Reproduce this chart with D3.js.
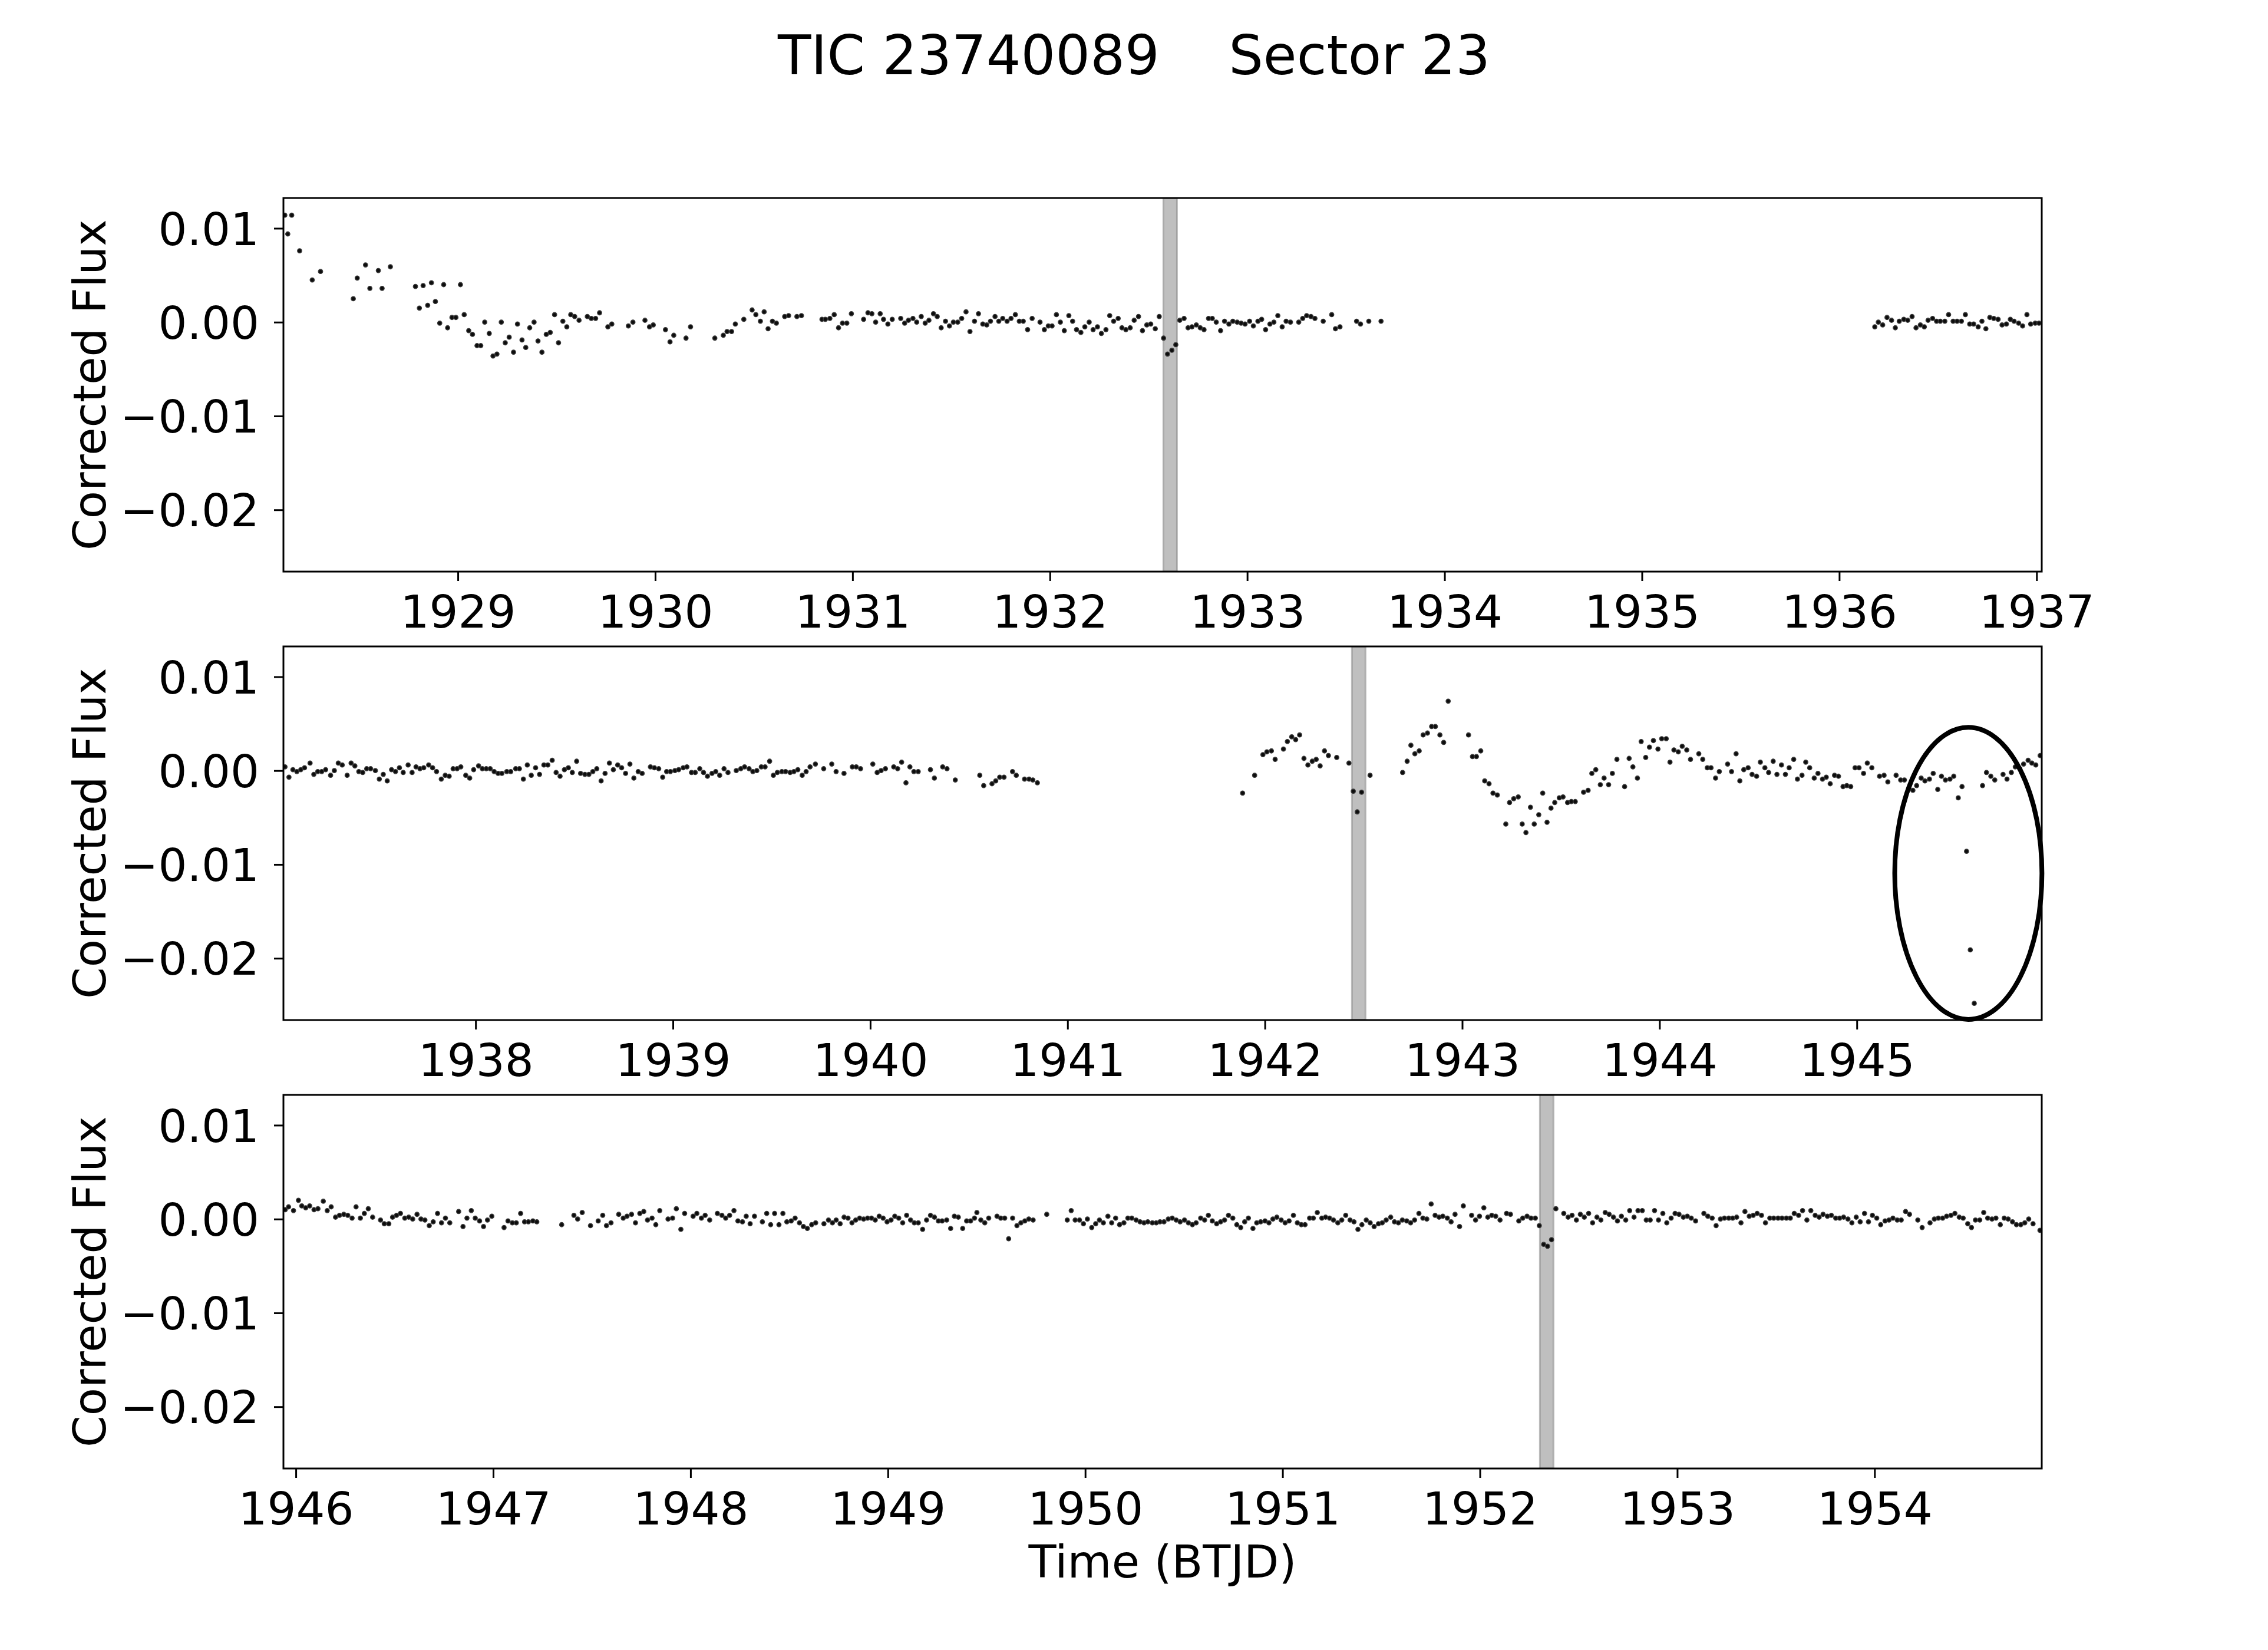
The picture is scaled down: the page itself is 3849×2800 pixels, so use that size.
<!DOCTYPE html>
<html><head><meta charset="utf-8">
<script src="https://cdn.jsdelivr.net/npm/d3@7"></script>
<style>
body{margin:0;background:#fff}
svg{display:block}
text{font-family:"DejaVu Sans",sans-serif;fill:#000}
</style>
</head><body>
<svg id="chart" width="3849" height="2800"></svg>
<script>
// ---------------- data ----------------
const titleText = "TIC 23740089    Sector 23";
const yLabel = "Corrected Flux";
const xLabel = "Time (BTJD)";
const yDomain = [-0.02658, 0.01323];
const yTicks = [0.01, 0.00, -0.01, -0.02];
const panelRanges = [[1928.116, 1937.026], [1937.026, 1945.937], [1945.937, 1954.847]];
const xTicks1 = [1929, 1930, 1931, 1932, 1933, 1934, 1935, 1936, 1937];
const xTicks2 = [1938, 1939, 1940, 1941, 1942, 1943, 1944, 1945];
const xTicks3 = [1946, 1947, 1948, 1949, 1950, 1951, 1952, 1953, 1954];
const transitWindows = [[1932.575, 1932.644], [1942.441, 1942.510], [1952.304, 1952.373]];
const highlight = {t: 1945.565, f: -0.01095, dt: 0.373, df: 0.01556};

const lc1 = [
[1928.123,0.0114],[1928.138,0.0094],[1928.158,0.0114],[1928.198,0.0076],[1928.262,0.0045],[1928.304,0.0054],
[1928.470,0.0025],[1928.490,0.0047],[1928.532,0.0061],[1928.554,0.0036],[1928.597,0.0055],[1928.616,0.0036],[1928.658,0.0059],
[1928.785,0.0038],[1928.805,0.0015],[1928.824,0.0039],[1928.847,0.0018],[1928.866,0.0042],[1928.886,0.0022],[1928.908,-0.0001],[1928.928,0.0040],[1928.948,-0.0006],[1928.970,0.0005],[1928.990,0.0005],[1929.013,0.0040],[1929.032,0.0008],[1929.055,-0.0009],[1929.074,-0.0013],[1929.097,-0.0025],[1929.116,-0.0025],[1929.136,0.0000],[1929.159,-0.0012],[1929.178,-0.0036],[1929.198,-0.0034],[1929.220,0.0000],[1929.240,-0.0022],[1929.260,-0.0016],[1929.282,-0.0032],[1929.302,-0.0002],[1929.325,-0.0019],[1929.344,-0.0027],[1929.364,-0.0006],[1929.386,0.0000],[1929.406,-0.0020],[1929.426,-0.0032],[1929.448,-0.0013],[1929.468,-0.0011],[1929.490,0.0008],[1929.510,-0.0022],[1929.532,0.0001],[1929.552,-0.0005],[1929.572,0.0008],[1929.592,0.0006],[1929.614,0.0002],[1929.656,0.0006],[1929.676,0.0004],[1929.698,0.0004],[1929.718,0.0010],[1929.760,-0.0005],[1929.780,-0.0002],
[1929.864,-0.0004],[1929.887,0.0000],[1929.948,0.0002],[1929.971,-0.0005],[1929.990,-0.0003],
[1930.052,-0.0008],[1930.075,-0.0021],[1930.094,-0.0014],[1930.156,-0.0017],[1930.179,-0.0005],
[1930.302,-0.0017],[1930.345,-0.0014],[1930.364,-0.0010],[1930.387,-0.0010],[1930.406,-0.0002],[1930.449,0.0003],[1930.491,0.0013],[1930.510,0.0008],[1930.533,0.0001],[1930.552,0.0011],[1930.572,-0.0007],[1930.594,0.0001],[1930.614,-0.0001],[1930.656,0.0006],[1930.676,0.0007],[1930.718,0.0006],[1930.741,0.0007],[1930.845,0.0003],
[1930.862,0.0003],[1930.885,0.0004],[1930.907,0.0008],[1930.929,-0.0006],[1930.949,-0.0001],[1930.971,-0.0001],[1930.994,0.0009],
[1931.056,0.0003],[1931.078,0.0010],[1931.098,0.0009],[1931.117,0.0000],[1931.140,0.0009],[1931.157,0.0003],[1931.179,-0.0002],[1931.201,0.0003],[1931.244,0.0004],[1931.264,-0.0001],[1931.283,0.0002],[1931.306,0.0004],[1931.325,0.0000],[1931.348,0.0006],[1931.368,-0.0001],[1931.387,0.0002],[1931.410,0.0009],[1931.429,0.0006],[1931.449,-0.0006],[1931.471,0.0001],[1931.491,-0.0004],[1931.511,0.0000],[1931.533,0.0000],[1931.553,0.0004],[1931.575,0.0011],[1931.595,-0.0010],[1931.618,0.0001],[1931.638,0.0009],[1931.660,-0.0002],[1931.680,-0.0003],[1931.699,0.0001],[1931.722,0.0006],[1931.741,0.0001],[1931.761,0.0004],[1931.783,0.0001],[1931.803,0.0004],[1931.825,0.0008],[1931.845,0.0001],[1931.865,0.0001],[1931.887,-0.0008],[1931.910,0.0004],[1931.950,0.0000],[1931.972,-0.0008],[1931.992,-0.0004],
[1932.011,-0.0004],[1932.033,0.0008],[1932.053,0.0000],[1932.073,-0.0009],[1932.096,0.0007],[1932.115,0.0001],[1932.135,-0.0008],[1932.157,-0.0011],[1932.177,-0.0005],[1932.199,0.0000],[1932.219,-0.0008],[1932.241,-0.0005],[1932.261,-0.0012],[1932.284,-0.0008],[1932.303,0.0007],[1932.323,0.0001],[1932.346,0.0004],[1932.365,-0.0006],[1932.385,-0.0008],[1932.407,-0.0006],[1932.427,0.0002],[1932.449,0.0006],[1932.469,-0.0009],[1932.491,-0.0003],[1932.511,-0.0002],[1932.534,-0.0007],[1932.554,0.0006],[1932.576,-0.0017],[1932.596,-0.0034],[1932.618,-0.0030],[1932.638,-0.0024],[1932.658,0.0002],[1932.680,0.0004],[1932.700,-0.0006],[1932.720,-0.0005],[1932.742,-0.0003],[1932.762,-0.0006],[1932.781,-0.0008],[1932.804,0.0004],[1932.823,0.0004],[1932.843,0.0000],[1932.865,-0.0009],[1932.885,0.0001],[1932.907,-0.0002],[1932.927,0.0001],[1932.949,0.0000],[1932.969,-0.0001],[1932.989,-0.0002],
[1933.012,0.0001],[1933.031,-0.0004],[1933.054,0.0001],[1933.073,0.0003],[1933.093,-0.0008],[1933.115,-0.0002],[1933.135,0.0000],[1933.155,0.0007],[1933.177,-0.0005],[1933.197,0.0001],[1933.219,0.0000],[1933.261,0.0000],[1933.281,0.0004],[1933.301,0.0007],[1933.323,0.0006],[1933.343,0.0004],[1933.385,0.0001],[1933.428,0.0008],[1933.447,-0.0007],[1933.470,-0.0005],[1933.554,0.0001],[1933.574,-0.0002],[1933.616,0.0001],[1933.678,0.0001],
[1936.180,-0.0005],[1936.198,0.0000],[1936.220,-0.0003],[1936.242,0.0005],[1936.265,0.0002],[1936.284,-0.0006],[1936.304,0.0001],[1936.327,0.0003],[1936.347,0.0002],[1936.369,0.0006],[1936.389,-0.0006],[1936.411,-0.0003],[1936.431,-0.0005],[1936.450,0.0002],[1936.473,0.0004],[1936.493,0.0001],[1936.512,0.0001],[1936.535,0.0001],[1936.554,0.0008],[1936.577,0.0001],[1936.597,0.0001],[1936.619,0.0001],[1936.639,0.0008],[1936.661,-0.0002],[1936.681,-0.0002],[1936.704,-0.0005],[1936.723,0.0001],[1936.743,-0.0007],[1936.763,0.0005],[1936.783,0.0004],[1936.805,0.0003],[1936.825,-0.0003],[1936.847,-0.0002],[1936.867,0.0003],[1936.886,0.0001],[1936.909,-0.0001],[1936.929,-0.0004],[1936.951,0.0008],[1936.970,-0.0002],[1936.993,-0.0001],[1937.012,-0.0001]
];

const lc2 = [
[1937.034,0.0004],[1937.054,-0.0007],[1937.074,0.0001],[1937.094,-0.0001],[1937.114,0.0001],[1937.133,0.0003],[1937.161,0.0008],[1937.180,-0.0004],[1937.200,-0.0001],[1937.220,-0.0001],[1937.240,0.0001],[1937.265,-0.0005],[1937.284,0.0000],[1937.304,0.0008],[1937.324,0.0006],[1937.349,-0.0005],[1937.369,0.0008],[1937.388,0.0005],[1937.408,-0.0001],[1937.428,-0.0002],[1937.448,0.0002],[1937.468,0.0002],[1937.492,0.0000],[1937.512,-0.0009],[1937.532,-0.0004],[1937.552,-0.0011],[1937.574,0.0001],[1937.594,-0.0001],[1937.614,0.0003],[1937.633,-0.0002],[1937.658,0.0006],[1937.678,-0.0002],[1937.698,0.0004],[1937.718,0.0002],[1937.737,0.0003],[1937.762,0.0006],[1937.782,0.0003],[1937.802,-0.0001],[1937.826,-0.0009],[1937.846,-0.0005],[1937.866,-0.0006],[1937.886,0.0002],[1937.906,0.0002],[1937.925,0.0004],[1937.950,-0.0005],[1937.970,-0.0008],[1937.990,0.0001],
[1938.015,0.0005],[1938.034,0.0002],[1938.054,0.0002],[1938.074,0.0002],[1938.094,-0.0001],[1938.114,-0.0003],[1938.133,-0.0003],[1938.158,-0.0001],[1938.178,-0.0001],[1938.203,0.0002],[1938.222,0.0002],[1938.242,-0.0009],[1938.262,0.0006],[1938.282,-0.0005],[1938.304,0.0003],[1938.324,-0.0004],[1938.346,0.0006],[1938.366,0.0006],[1938.388,0.0011],[1938.408,-0.0002],[1938.428,-0.0006],[1938.450,0.0001],[1938.470,0.0003],[1938.490,-0.0002],[1938.512,0.0010],[1938.532,-0.0003],[1938.554,-0.0004],[1938.574,-0.0004],[1938.594,-0.0001],[1938.614,0.0002],[1938.636,-0.0011],[1938.656,-0.0003],[1938.678,0.0008],[1938.698,0.0001],[1938.720,0.0006],[1938.740,0.0003],[1938.760,-0.0003],[1938.782,0.0007],[1938.802,-0.0008],[1938.824,-0.0001],[1938.844,-0.0003],[1938.886,0.0004],[1938.906,0.0003],[1938.928,0.0002],[1938.948,-0.0007],[1938.968,-0.0001],[1938.987,-0.0001],
[1939.010,0.0000],[1939.029,0.0001],[1939.052,0.0003],[1939.071,0.0004],[1939.094,-0.0002],[1939.113,-0.0002],[1939.136,0.0002],[1939.155,-0.0002],[1939.175,-0.0006],[1939.198,-0.0003],[1939.217,-0.0001],[1939.237,-0.0005],[1939.259,0.0002],[1939.279,-0.0002],[1939.321,0.0000],[1939.344,0.0002],[1939.363,0.0004],[1939.386,0.0002],[1939.405,-0.0001],[1939.425,0.0000],[1939.448,0.0004],[1939.467,0.0004],[1939.490,0.0010],[1939.509,-0.0005],[1939.529,-0.0002],[1939.552,-0.0001],[1939.571,-0.0001],[1939.594,-0.0002],[1939.613,-0.0001],[1939.633,0.0001],[1939.655,-0.0005],[1939.675,-0.0001],[1939.695,0.0004],[1939.722,0.0007],[1939.764,0.0002],
[1939.805,0.0007],[1939.827,-0.0001],[1939.867,-0.0003],[1939.909,0.0004],[1939.929,0.0004],[1939.951,0.0002],[1940.013,0.0007],[1940.035,-0.0002],[1940.055,0.0000],[1940.077,0.0002],[1940.119,0.0004],[1940.139,0.0002],[1940.159,0.0009],[1940.181,-0.0013],[1940.201,0.0004],[1940.221,-0.0001],[1940.243,-0.0001],[1940.305,0.0001],[1940.325,-0.0008],[1940.367,0.0004],[1940.389,0.0002],[1940.431,-0.0010],
[1940.555,-0.0005],[1940.575,-0.0016],[1940.617,-0.0014],[1940.636,-0.0011],[1940.656,-0.0007],[1940.678,-0.0007],[1940.721,-0.0001],[1940.740,-0.0005],[1940.782,-0.0009],[1940.805,-0.0009],[1940.824,-0.0010],[1940.847,-0.0013],
[1941.887,-0.0024],[1941.948,-0.0005],[1941.990,0.0017],[1942.010,0.0020],[1942.033,0.0021],[1942.052,0.0012],[1942.094,0.0023],[1942.114,0.0031],[1942.136,0.0036],[1942.156,0.0033],[1942.176,0.0038],[1942.198,0.0013],[1942.218,0.0006],[1942.240,0.0010],[1942.260,0.0012],[1942.280,0.0005],[1942.302,0.0021],[1942.322,0.0016],[1942.364,0.0014],[1942.426,0.0008],[1942.448,-0.0022],[1942.468,-0.0044],[1942.490,-0.0023],[1942.533,-0.0005],
[1942.698,-0.0002],[1942.721,0.0010],[1942.740,0.0027],[1942.760,0.0018],[1942.782,0.0021],[1942.802,0.0038],[1942.824,0.0040],[1942.845,0.0047],[1942.864,0.0047],[1942.887,0.0038],[1942.906,0.0030],[1942.929,0.0074],
[1943.032,0.0038],[1943.052,0.0015],[1943.072,0.0015],[1943.094,0.0021],[1943.114,-0.0011],[1943.136,-0.0014],[1943.156,-0.0024],[1943.178,-0.0026],[1943.221,-0.0057],[1943.240,-0.0034],
[1943.261,-0.0030],[1943.284,-0.0028],[1943.304,-0.0057],[1943.323,-0.0066],[1943.346,-0.0039],[1943.365,-0.0057],[1943.388,-0.0047],[1943.408,-0.0024],[1943.430,-0.0055],[1943.450,-0.0040],[1943.469,-0.0034],[1943.492,-0.0029],[1943.511,-0.0028],[1943.534,-0.0034],[1943.553,-0.0033],[1943.573,-0.0033],[1943.615,-0.0023],[1943.638,-0.0021],[1943.657,-0.0003],[1943.677,0.0001],[1943.700,-0.0015],[1943.719,-0.0008],[1943.742,-0.0015],[1943.761,-0.0003],[1943.784,0.0012],[1943.823,-0.0017],[1943.846,0.0013],[1943.865,0.0004],[1943.888,-0.0008],[1943.907,0.0031],[1943.930,0.0014],[1943.949,0.0025],[1943.969,0.0032],[1943.992,0.0023],
[1944.011,0.0034],[1944.034,0.0034],[1944.053,0.0009],[1944.073,0.0022],[1944.095,0.0020],[1944.115,0.0026],[1944.138,0.0022],[1944.157,0.0012],[1944.199,0.0018],[1944.219,0.0012],[1944.242,0.0003],[1944.261,0.0003],[1944.284,-0.0008],[1944.303,-0.0001],[1944.345,0.0007],[1944.365,-0.0001],[1944.388,0.0018],[1944.407,-0.0011],[1944.427,0.0001],[1944.449,0.0003],[1944.469,-0.0004],[1944.492,-0.0006],[1944.511,0.0009],[1944.534,0.0003],[1944.553,-0.0002],[1944.576,0.0010],[1944.595,-0.0004],[1944.618,0.0006],[1944.638,-0.0004],[1944.657,0.0003],[1944.680,0.0012],[1944.699,-0.0009],[1944.722,-0.0005],[1944.741,0.0009],[1944.761,0.0003],[1944.784,-0.0008],[1944.803,-0.0003],[1944.826,-0.0009],[1944.845,-0.0007],[1944.865,-0.0014],[1944.887,-0.0005],[1944.907,-0.0006],[1944.930,-0.0017],[1944.949,-0.0016],[1944.969,-0.0017],[1944.991,0.0003],
[1945.011,0.0003],[1945.034,-0.0003],[1945.053,0.0008],[1945.076,0.0003],[1945.115,-0.0006],[1945.138,-0.0005],[1945.157,-0.0012],[1945.199,-0.0005],[1945.222,-0.0010],[1945.241,-0.0010],[1945.284,-0.0021],[1945.303,-0.0016],[1945.326,-0.0008],[1945.345,-0.0011],[1945.368,-0.0009],[1945.387,-0.0003],[1945.410,-0.0020],[1945.429,-0.0006],[1945.449,-0.0010],[1945.472,-0.0009],[1945.491,-0.0006],[1945.514,-0.0029],[1945.533,-0.0017],[1945.556,-0.0086],[1945.575,-0.0191],[1945.595,-0.0248],[1945.637,-0.0016],[1945.657,-0.0002],[1945.679,-0.0006],[1945.699,-0.0010],[1945.741,-0.0004],[1945.761,-0.0009],[1945.783,-0.0002],[1945.803,0.0004],[1945.826,0.0002],[1945.845,0.0007],[1945.868,0.0011],[1945.887,0.0008],[1945.907,0.0006],[1945.929,0.0016]
];

const lc3 = [
[1945.946,0.0010],[1945.963,0.0013],[1945.988,0.0009],[1946.013,0.0020],[1946.030,0.0014],[1946.050,0.0012],[1946.070,0.0014],[1946.092,0.0010],[1946.112,0.0011],[1946.139,0.0019],[1946.159,0.0009],[1946.179,0.0013],[1946.201,0.0002],[1946.221,0.0004],[1946.243,0.0005],[1946.263,0.0004],[1946.285,0.0001],[1946.305,0.0013],[1946.327,0.0001],[1946.347,0.0006],[1946.367,0.0011],[1946.389,0.0002],[1946.429,-0.0001],[1946.448,-0.0005],[1946.471,-0.0005],[1946.490,0.0002],[1946.510,0.0004],[1946.530,0.0006],[1946.552,0.0001],[1946.572,0.0002],[1946.592,0.0000],[1946.614,0.0005],[1946.634,0.0000],[1946.654,-0.0001],[1946.676,-0.0007],[1946.696,-0.0003],[1946.718,0.0006],[1946.738,-0.0004],[1946.758,0.0001],[1946.780,-0.0004],[1946.825,0.0008],[1946.847,-0.0008],[1946.867,0.0001],[1946.889,0.0009],[1946.909,0.0001],[1946.931,-0.0002],[1946.951,-0.0008],[1946.971,-0.0001],[1946.993,0.0003],
[1947.055,-0.0009],[1947.075,-0.0002],[1947.097,-0.0004],[1947.117,-0.0004],[1947.139,0.0006],[1947.159,-0.0003],[1947.178,-0.0003],[1947.201,-0.0002],[1947.221,-0.0003],[1947.347,-0.0006],[1947.409,0.0004],[1947.428,0.0000],[1947.451,0.0007],[1947.493,-0.0007],[1947.532,-0.0002],[1947.555,0.0004],[1947.574,-0.0007],[1947.597,-0.0004],[1947.636,0.0005],[1947.659,0.0001],[1947.678,0.0003],[1947.701,0.0005],[1947.721,-0.0004],[1947.743,0.0006],[1947.763,0.0008],[1947.782,-0.0001],[1947.805,0.0001],[1947.824,-0.0006],[1947.844,0.0009],[1947.886,0.0000],[1947.909,0.0001],[1947.928,0.0011],[1947.951,-0.0011],[1947.970,0.0006],
[1948.013,0.0003],[1948.032,0.0006],[1948.055,0.0001],[1948.074,0.0004],[1948.097,-0.0001],[1948.136,0.0006],[1948.159,0.0004],[1948.178,0.0001],[1948.198,0.0004],[1948.220,0.0009],[1948.240,-0.0002],[1948.263,-0.0003],[1948.282,0.0003],[1948.302,-0.0005],[1948.324,0.0003],[1948.364,-0.0003],[1948.386,0.0006],[1948.406,-0.0006],[1948.426,0.0006],[1948.448,-0.0006],[1948.468,0.0006],[1948.488,-0.0003],[1948.510,-0.0002],[1948.530,0.0001],[1948.552,-0.0004],[1948.572,-0.0008],[1948.592,-0.0010],[1948.614,-0.0006],[1948.634,-0.0004],[1948.676,-0.0005],[1948.699,-0.0001],[1948.719,-0.0004],[1948.738,-0.0001],[1948.758,-0.0005],[1948.778,0.0002],[1948.798,0.0001],[1948.818,-0.0004],[1948.837,-0.0001],[1948.857,0.0001],[1948.877,0.0000],[1948.897,0.0001],[1948.917,0.0001],[1948.936,-0.0001],[1948.956,0.0003],[1948.976,0.0001],[1948.996,-0.0003],
[1949.016,-0.0001],[1949.035,0.0003],[1949.055,0.0001],[1949.075,-0.0004],[1949.095,0.0004],[1949.115,-0.0001],[1949.134,-0.0004],[1949.154,-0.0004],[1949.176,-0.0011],[1949.196,-0.0001],[1949.216,0.0004],[1949.236,0.0002],[1949.256,-0.0002],[1949.275,-0.0002],[1949.298,-0.0001],[1949.318,-0.0010],[1949.337,0.0003],[1949.357,0.0002],[1949.379,-0.0010],[1949.399,-0.0002],[1949.419,-0.0002],[1949.439,0.0001],[1949.451,0.0007],[1949.471,-0.0001],[1949.491,-0.0004],[1949.511,0.0001],[1949.553,0.0003],[1949.572,0.0001],[1949.592,0.0001],[1949.612,-0.0021],[1949.632,0.0001],[1949.654,-0.0007],[1949.674,-0.0004],[1949.694,-0.0002],[1949.714,0.0000],[1949.736,-0.0001],[1949.805,0.0005],[1949.909,-0.0001],[1949.929,0.0009],[1949.949,-0.0001],[1949.971,-0.0001],[1949.991,-0.0005],
[1950.011,0.0000],[1950.033,-0.0009],[1950.053,-0.0005],[1950.072,-0.0001],[1950.092,-0.0004],[1950.115,0.0003],[1950.134,-0.0004],[1950.154,0.0001],[1950.174,-0.0006],[1950.196,-0.0004],[1950.216,0.0001],[1950.236,0.0001],[1950.258,-0.0001],[1950.278,-0.0003],[1950.298,-0.0004],[1950.317,-0.0003],[1950.340,-0.0004],[1950.360,-0.0004],[1950.379,-0.0003],[1950.399,-0.0003],[1950.421,0.0000],[1950.441,0.0001],[1950.461,-0.0001],[1950.481,-0.0003],[1950.503,-0.0001],[1950.523,-0.0004],[1950.543,-0.0006],[1950.562,-0.0004],[1950.585,0.0001],[1950.605,-0.0001],[1950.624,0.0004],[1950.644,-0.0002],[1950.666,-0.0005],[1950.686,-0.0003],[1950.706,-0.0001],[1950.726,0.0004],[1950.748,0.0001],[1950.768,-0.0006],[1950.788,-0.0009],[1950.808,-0.0003],[1950.827,0.0001],[1950.850,-0.0010],[1950.869,-0.0004],[1950.889,-0.0003],[1950.911,-0.0002],[1950.931,-0.0004],[1950.951,0.0000],[1950.971,0.0002],[1950.993,-0.0001],
[1951.013,-0.0004],[1951.033,-0.0002],[1951.055,0.0004],[1951.075,-0.0004],[1951.095,-0.0006],[1951.114,-0.0006],[1951.137,0.0001],[1951.156,0.0001],[1951.176,0.0007],[1951.199,0.0001],[1951.218,0.0002],[1951.238,0.0001],[1951.258,-0.0001],[1951.280,-0.0004],[1951.300,-0.0001],[1951.320,0.0004],[1951.342,-0.0001],[1951.362,-0.0003],[1951.382,-0.0011],[1951.402,-0.0006],[1951.424,-0.0001],[1951.444,-0.0004],[1951.464,-0.0008],[1951.486,-0.0005],[1951.505,-0.0004],[1951.525,-0.0001],[1951.548,0.0002],[1951.567,-0.0003],[1951.587,-0.0004],[1951.607,-0.0001],[1951.629,-0.0002],[1951.649,-0.0004],[1951.669,-0.0001],[1951.691,0.0006],[1951.711,0.0001],[1951.731,0.0000],[1951.753,0.0016],[1951.773,0.0004],[1951.793,0.0002],[1951.812,0.0003],[1951.835,0.0001],[1951.854,-0.0003],[1951.874,0.0005],[1951.897,-0.0008],[1951.916,0.0014],[1951.958,0.0004],[1951.978,-0.0001],[1951.998,0.0003],
[1952.020,0.0012],[1952.040,0.0002],[1952.060,0.0004],[1952.080,0.0003],[1952.102,-0.0001],[1952.135,0.0006],[1952.155,0.0005],[1952.197,-0.0002],[1952.217,0.0001],[1952.239,0.0003],[1952.259,0.0001],[1952.281,0.0001],[1952.301,-0.0007],[1952.323,-0.0027],[1952.343,-0.0029],[1952.363,-0.0022],[1952.385,0.0011],[1952.425,0.0006],[1952.447,0.0002],[1952.467,0.0004],[1952.489,-0.0001],[1952.509,0.0005],[1952.529,0.0002],[1952.551,0.0006],[1952.571,-0.0004],[1952.593,0.0002],[1952.613,-0.0001],[1952.635,0.0007],[1952.655,0.0005],[1952.677,0.0002],[1952.697,-0.0002],[1952.717,0.0003],[1952.739,-0.0001],[1952.759,0.0009],[1952.781,0.0002],[1952.801,0.0009],[1952.823,0.0009],[1952.843,-0.0001],[1952.863,-0.0001],[1952.885,0.0009],[1952.905,-0.0001],[1952.927,0.0006],[1952.947,-0.0004],[1952.969,0.0001],[1952.989,0.0006],
[1953.009,0.0005],[1953.031,0.0002],[1953.051,0.0003],[1953.071,0.0001],[1953.093,-0.0002],[1953.135,0.0006],[1953.155,0.0003],[1953.177,0.0001],[1953.197,-0.0007],[1953.219,0.0000],[1953.239,0.0001],[1953.261,0.0001],[1953.281,0.0001],[1953.301,0.0002],[1953.323,-0.0004],[1953.343,0.0008],[1953.365,0.0003],[1953.385,0.0004],[1953.405,0.0006],[1953.427,0.0004],[1953.447,-0.0004],[1953.469,0.0001],[1953.489,0.0001],[1953.511,0.0001],[1953.531,0.0001],[1953.553,0.0001],[1953.573,0.0001],[1953.593,0.0006],[1953.615,0.0004],[1953.635,0.0009],[1953.657,-0.0001],[1953.677,0.0009],[1953.699,0.0004],[1953.719,0.0002],[1953.739,0.0005],[1953.761,0.0003],[1953.781,0.0004],[1953.803,0.0001],[1953.823,0.0001],[1953.843,0.0002],[1953.865,0.0000],[1953.885,-0.0004],[1953.907,0.0002],[1953.927,-0.0003],[1953.949,0.0006],[1953.969,-0.0003],[1953.989,0.0004],
[1954.011,0.0001],[1954.031,-0.0006],[1954.053,-0.0002],[1954.073,-0.0001],[1954.093,0.0001],[1954.115,-0.0001],[1954.135,-0.0001],[1954.157,0.0008],[1954.177,0.0005],[1954.219,-0.0001],[1954.241,-0.0009],[1954.281,-0.0004],[1954.303,0.0000],[1954.323,0.0001],[1954.345,0.0001],[1954.365,0.0003],[1954.387,0.0004],[1954.407,0.0006],[1954.429,0.0002],[1954.449,0.0001],[1954.472,-0.0005],[1954.491,-0.0009],[1954.511,-0.0001],[1954.533,-0.0001],[1954.553,0.0007],[1954.573,0.0001],[1954.595,0.0000],[1954.615,0.0001],[1954.637,-0.0006],[1954.657,0.0001],[1954.677,0.0000],[1954.699,-0.0003],[1954.719,-0.0006],[1954.741,-0.0006],[1954.761,-0.0004],[1954.781,0.0000],[1954.803,-0.0005],[1954.838,-0.0012]
];

// ---------------- drawing ----------------
const svg = d3.select("#chart");
const W = 3849;
const left = 481, right = 3465, panelH = 634;
const tops = [336, 1097, 1858];
const FS = 77;

const panels = [
  {range: panelRanges[0], ticks: xTicks1, data: lc1, band: transitWindows[0]},
  {range: panelRanges[1], ticks: xTicks2, data: lc2, band: transitWindows[1]},
  {range: panelRanges[2], ticks: xTicks3, data: lc3, band: transitWindows[2]}
];

svg.append("rect").attr("width", W).attr("height", 2800).attr("fill", "#fff");

svg.append("text")
  .attr("x", W / 2).attr("y", 126)
  .attr("text-anchor", "middle")
  .attr("font-size", 92.4)
  .style("white-space", "pre")
  .text(titleText);

const defs = svg.append("defs");

panels.forEach((p, i) => {
  const top = tops[i];
  const x = d3.scaleLinear().domain(p.range).range([left, right]);
  const y = d3.scaleLinear().domain(yDomain).range([top + panelH, top]);
  const g = svg.append("g");

  defs.append("clipPath").attr("id", "clip" + i)
    .append("rect").attr("x", left).attr("y", top)
    .attr("width", right - left).attr("height", panelH);

  const plot = g.append("g").attr("clip-path", `url(#clip${i})`);

  // transit window band
  plot.append("rect")
    .attr("x", x(p.band[0])).attr("y", top)
    .attr("width", x(p.band[1]) - x(p.band[0])).attr("height", panelH)
    .attr("fill", "gray").attr("fill-opacity", 0.5)
    .attr("stroke", "gray").attr("stroke-opacity", 0.5).attr("stroke-width", 3);

  // points
  plot.selectAll("circle.pt").data(p.data).enter().append("circle")
    .attr("class", "pt")
    .attr("cx", d => x(d[0])).attr("cy", d => y(d[1]))
    .attr("r", 3.6)
    .attr("fill", "#0d0d0d")
    .attr("stroke", "#3a3a3a").attr("stroke-width", 1.6);

  // x axis
  const xa = g.append("g").attr("transform", `translate(0,${top + panelH})`)
    .call(d3.axisBottom(x).tickValues(p.ticks).tickFormat(d3.format("d"))
      .tickSize(16).tickPadding(24));
  xa.select(".domain").remove();
  xa.selectAll(".tick line").attr("stroke", "#000").attr("stroke-width", 3);
  xa.selectAll(".tick text").attr("font-size", FS).attr("fill", "#000")
    .attr("font-family", "DejaVu Sans");

  // y axis
  const ya = g.append("g").attr("transform", `translate(${left},0)`)
    .call(d3.axisLeft(y).tickValues(yTicks).tickFormat(d3.format(".2f"))
      .tickSize(16).tickPadding(25));
  ya.select(".domain").remove();
  ya.selectAll(".tick line").attr("stroke", "#000").attr("stroke-width", 3);
  ya.selectAll(".tick text").attr("font-size", FS).attr("fill", "#000")
    .attr("font-family", "DejaVu Sans").attr("dy", "0.36em");

  // spines
  g.append("rect").attr("x", left).attr("y", top)
    .attr("width", right - left).attr("height", panelH)
    .attr("fill", "none").attr("stroke", "#000").attr("stroke-width", 3);

  // y label
  g.append("text")
    .attr("transform", `translate(179,${top + panelH / 2}) rotate(-90)`)
    .attr("text-anchor", "middle")
    .attr("font-size", FS)
    .text(yLabel);

  // highlight ellipse (panel 2)
  if (i === 1) {
    g.append("ellipse")
      .attr("cx", x(highlight.t)).attr("cy", y(highlight.f))
      .attr("rx", x(highlight.t + highlight.dt) - x(highlight.t))
      .attr("ry", y(highlight.f - highlight.df) - y(highlight.f))
      .attr("fill", "none").attr("stroke", "#000").attr("stroke-width", 8);
  }

  if (i === 2) {
    svg.append("text")
      .attr("x", (left + right) / 2).attr("y", 2677)
      .attr("text-anchor", "middle")
      .attr("font-size", FS)
      .text(xLabel);
  }
});
</script>
</body></html>
